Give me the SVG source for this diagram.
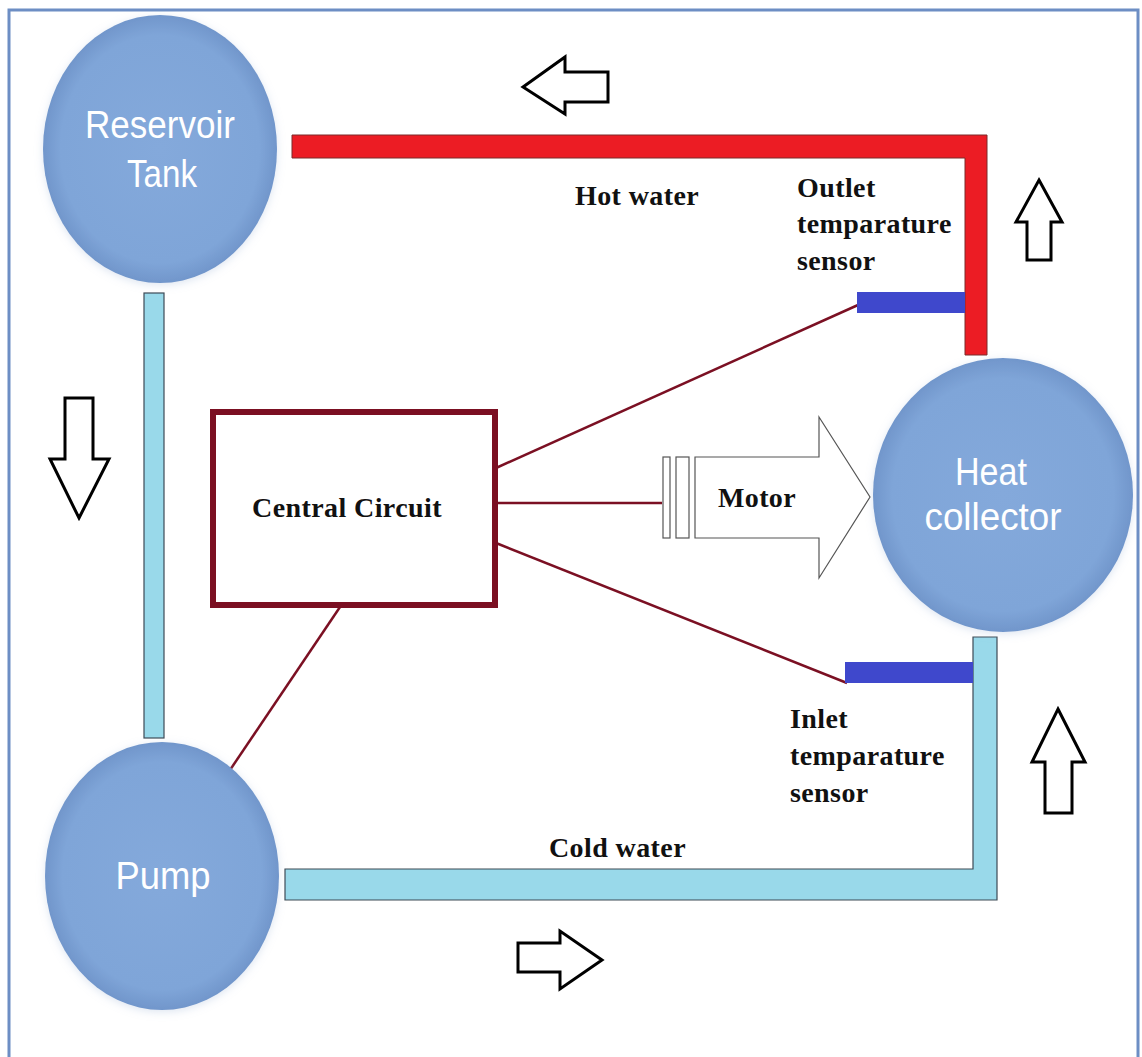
<svg xmlns="http://www.w3.org/2000/svg" width="1142" height="1057" viewBox="0 0 1142 1057">
  <defs>
    <radialGradient id="ballFill" cx="50%" cy="50%" r="50%">
      <stop offset="0%" stop-color="#84a9db"/>
      <stop offset="85%" stop-color="#7fa5d8"/>
      <stop offset="100%" stop-color="#7196cb"/>
    </radialGradient>
    <filter id="soft" x="-20%" y="-20%" width="140%" height="140%">
      <feGaussianBlur in="SourceAlpha" stdDeviation="4"/>
      <feOffset dx="0" dy="2" result="b"/>
      <feFlood flood-color="#9fb6d6" flood-opacity="0.35"/>
      <feComposite in2="b" operator="in"/>
      <feMerge><feMergeNode/><feMergeNode in="SourceGraphic"/></feMerge>
    </filter>
    <style>
      .ball { fill: url(#ballFill); filter: url(#soft); }
      .ballText { font-family: "Liberation Sans", Arial, sans-serif; font-size: 39px; fill: #ffffff; text-anchor: middle; }
      .label { font-family: "Liberation Serif", "Times New Roman", serif; font-weight: bold; font-size: 28px; letter-spacing: 0.4px; fill: #111111; }
      .hot { fill: #ec1c24; stroke: #7a2a2a; stroke-width: 1; }
      .cold { fill: #99d9ea; stroke: #3d4a55; stroke-width: 1.2; }
      .sensor { fill: #3f48cc; }
      .flow { fill: #ffffff; stroke: #000000; stroke-width: 3; stroke-linejoin: miter; }
      .wire { stroke: #7b1023; stroke-width: 2.5; fill: none; }
      .motorPart { fill: #ffffff; stroke: #555555; stroke-width: 1.2; }
    </style>
  </defs>

  <rect width="1142" height="1057" fill="#ffffff"/>
  <!-- outer frame -->
  <rect x="9" y="10" width="1129" height="1050" fill="none" stroke="#6d8ec4" stroke-width="3"/>

  <!-- water pipes -->
  <g id="pipes">
    <path class="hot" d="M292,135 H987 V355 H965 V158 H292 Z"/>
    <rect class="cold" x="144" y="293" width="20" height="445"/>
    <path class="cold" d="M285,869 H973 V637 H997 V900 H285 Z"/>
  </g>

  <!-- connectors: control wiring -->
  <g id="connectors">
    <line class="wire" x1="496" y1="468" x2="858" y2="305"/>
    <line class="wire" x1="496" y1="503" x2="662" y2="503"/>
    <line class="wire" x1="496" y1="543" x2="847" y2="683"/>
    <line class="wire" x1="340" y1="607" x2="230" y2="770"/>
  </g>

  <!-- flow direction arrows -->
  <g id="flow-arrows">
    <polygon class="flow" points="523,87 565,57 565,72 608,72 608,102 565,102 565,114"/>
    <polygon class="flow" points="1039,180 1062,222 1051,222 1051,260 1027,260 1027,222 1016,222"/>
    <polygon class="flow" points="79,518 109,459 93,459 93,398 65,398 65,459 50,459"/>
    <polygon class="flow" points="602,960 560,931 560,943 518,943 518,972 560,972 560,989"/>
    <polygon class="flow" points="1058,709 1085,762 1072,762 1072,813 1045,813 1045,762 1032,762"/>
  </g>

  <g id="reservoir-tank">
    <ellipse class="ball" cx="160" cy="149" rx="117" ry="134"/>
    <text class="ballText" x="160" y="138" textLength="150" lengthAdjust="spacingAndGlyphs">Reservoir</text>
    <text class="ballText" x="162" y="187" textLength="70" lengthAdjust="spacingAndGlyphs">Tank</text>
  </g>

  <g id="pump">
    <ellipse class="ball" cx="162" cy="876" rx="117" ry="134"/>
    <text class="ballText" x="163" y="889" textLength="95" lengthAdjust="spacingAndGlyphs">Pump</text>
  </g>

  <g id="heat-collector">
    <ellipse class="ball" cx="1003" cy="495" rx="130" ry="137"/>
    <text class="ballText" x="991" y="485" textLength="72" lengthAdjust="spacingAndGlyphs">Heat</text>
    <text class="ballText" x="993" y="530" textLength="137" lengthAdjust="spacingAndGlyphs">collector</text>
  </g>

  <g id="central-circuit">
    <rect x="213" y="412" width="282" height="193" fill="#ffffff" stroke="#7b0f22" stroke-width="6"/>
    <text class="label" x="347" y="517" text-anchor="middle">Central Circuit</text>
  </g>

  <g id="motor">
    <rect class="motorPart" x="663" y="457" width="7" height="81"/>
    <rect class="motorPart" x="676" y="457" width="13" height="81"/>
    <polygon class="motorPart" points="695,457 819,457 819,417 870,497 819,578 819,538 695,538"/>
    <text class="label" x="757" y="507" text-anchor="middle">Motor</text>
  </g>

  <g id="outlet-sensor">
    <rect class="sensor" x="857" y="292" width="108" height="21"/>
    <text class="label" x="797" y="197">Outlet</text>
    <text class="label" x="797" y="233">temparature</text>
    <text class="label" x="797" y="270">sensor</text>
  </g>

  <g id="inlet-sensor">
    <rect class="sensor" x="845" y="662" width="128" height="21"/>
    <text class="label" x="790" y="728">Inlet</text>
    <text class="label" x="790" y="765">temparature</text>
    <text class="label" x="790" y="802">sensor</text>
  </g>

  <g id="pipe-labels">
    <text class="label" x="575" y="205">Hot water</text>
    <text class="label" x="549" y="857">Cold water</text>
  </g>
</svg>
